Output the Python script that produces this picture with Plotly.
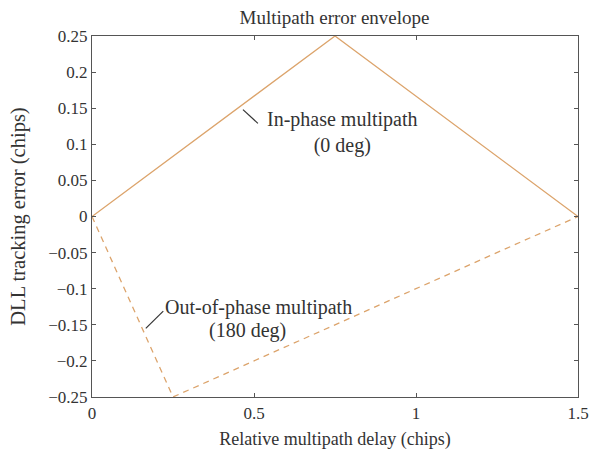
import plotly.graph_objects as go

# Data
in_phase_x = [0, 0.75, 1.5]
in_phase_y = [0, 0.25, 0]
out_phase_x = [0, 0.25, 1.5]
out_phase_y = [0, -0.25, 0]

x_ticks = [0, 0.5, 1, 1.5]
x_tick_labels = ["0", "0.5", "1", "1.5"]
y_ticks = [0.25, 0.2, 0.15, 0.1, 0.05, 0, -0.05, -0.1, -0.15, -0.2, -0.25]
y_tick_labels = ["0.25", "0.2", "0.15", "0.1", "0.05", "0", "\u22120.05", "\u22120.1",
                 "\u22120.15", "\u22120.2", "\u22120.25"]

line_color = "#dca46c"
text_color = "#333333"
font_family = "Liberation Serif, DejaVu Serif, serif"

fig = go.Figure()
fig.add_trace(go.Scatter(x=in_phase_x, y=in_phase_y, mode="lines",
                         line=dict(color=line_color, width=1.3), showlegend=False))
fig.add_trace(go.Scatter(x=out_phase_x, y=out_phase_y, mode="lines",
                         line=dict(color=line_color, width=1.3, dash="6px,5px"), showlegend=False))

# leader lines
fig.add_shape(type="line", x0=0.466, y0=0.148, x1=0.512, y1=0.129,
              line=dict(color="#333333", width=1.2))
fig.add_shape(type="line", x0=0.166, y0=-0.155, x1=0.220, y1=-0.131,
              line=dict(color="#333333", width=1.2))

fig.add_annotation(x=0.772, y=0.117, text="In-phase multipath<br>(0 deg)", showarrow=False,
                   xanchor="center", yanchor="middle", align="center",
                   font=dict(family=font_family, size=20, color=text_color))
fig.add_annotation(x=0.514, y=-0.1385, text="Out-of-phase multipath", showarrow=False,
                   xanchor="center", yanchor="bottom", yshift=-4,
                   font=dict(family=font_family, size=20, color=text_color))
fig.add_annotation(x=0.481, y=-0.1385, text="(180 deg)", showarrow=False,
                   xanchor="center", yanchor="top", yshift=0,
                   font=dict(family=font_family, size=20, color=text_color))

axis_common = dict(showline=True, linecolor="#555555", linewidth=1.2, mirror="ticks",
                   ticks="inside", ticklen=4, tickcolor="#555555", showgrid=False, zeroline=False,
                   automargin=False,
                   tickfont=dict(family=font_family, size=17, color=text_color))

fig.update_xaxes(range=[0, 1.5], tickvals=x_ticks, ticktext=x_tick_labels,
                 title=dict(text="Relative multipath delay (chips)",
                            font=dict(family=font_family, size=18, color=text_color), standoff=10),
                 **axis_common)
fig.update_yaxes(range=[-0.25, 0.25], tickvals=y_ticks, ticktext=y_tick_labels,
                 title=dict(text="DLL tracking error (chips)",
                            font=dict(family=font_family, size=20.5, color=text_color), standoff=16),
                 **axis_common)

fig.update_layout(
    width=590, height=455,
    margin=dict(l=92, r=12, t=36, b=58),
    plot_bgcolor="white", paper_bgcolor="white",
    title=dict(text="Multipath error envelope", x=0.567, xanchor="center", y=0.962, yanchor="middle",
               font=dict(family=font_family, size=19, color=text_color)),
)

fig.write_html("out.html", config={"displayModeBar": False},
               post_script="document.body.style.margin='0px';")
